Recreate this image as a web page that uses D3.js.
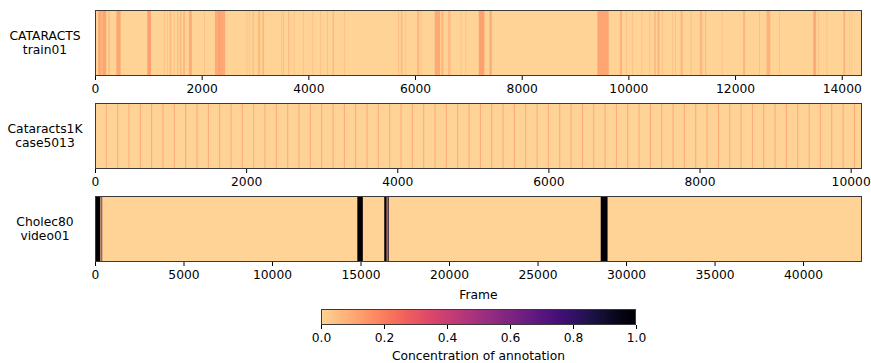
<!DOCTYPE html>
<html>
<head>
<meta charset="utf-8">
<script src="https://cdn.jsdelivr.net/npm/d3@7"></script>
<style>
  html, body { margin: 0; padding: 0; background: #fff; }
  svg { display: block; }
  text { font-family: "DejaVu Sans", sans-serif; }
</style>
</head>
<body>
<svg id="chart" width="871" height="363"></svg>
<script>
// ---------- data ----------
const datasetNames = [["CATARACTS", "train01"], ["Cataracts1K", "case5013"], ["Cholec80", "video01"]];
const frameCounts = [14380, 10150, 43330];

// CATARACTS train01: [startFrame, endFrame, concentration]
const cataractsSegments = [
  [60,110,0.11],[110,150,0.08],[150,210,0.11],[250,275,0.06],[400,480,0.11],[980,1050,0.12],
  [1290,1310,0.05],[1350,1365,0.05],[1400,1430,0.06],[1475,1490,0.05],[1540,1560,0.06],
  [1590,1620,0.06],[1655,1685,0.07],[1765,1815,0.1],[2045,2060,0.05],[2250,2300,0.1],
  [2300,2360,0.12],[2360,2440,0.1],[2840,2855,0.05],[2890,2905,0.05],[2955,2975,0.06],
  [3060,3095,0.07],[3140,3170,0.07],[3495,3510,0.05],[3530,3545,0.06],[3620,3640,0.06],
  [3725,3740,0.05],[3900,3915,0.05],[4075,4090,0.05],[4225,4240,0.05],[4350,4365,0.05],
  [4455,4480,0.07],[4670,4685,0.05],[5685,5700,0.06],[5735,5765,0.06],[5820,5835,0.05],
  [6040,6080,0.07],[6105,6120,0.05],[6370,6470,0.1],[6495,6535,0.07],[6620,6665,0.06],
  [6855,6870,0.05],[6945,6960,0.05],[7195,7300,0.12],[7395,7440,0.09],[9420,9630,0.11],
  [9840,9880,0.08],[9960,9975,0.05],[10070,10085,0.05],[10245,10260,0.05],[10395,10410,0.05],
  [10485,10515,0.07],[10545,10585,0.07],[10635,10650,0.05],[10825,10840,0.05],[10875,10890,0.05],
  [10980,11020,0.07],[11170,11185,0.05],[11340,11385,0.07],[11440,11460,0.06],[11750,11765,0.05],
  [12150,12190,0.07],[12450,12465,0.06],[12590,12660,0.08],[12825,12840,0.05],[13465,13520,0.1],
  [13560,13575,0.05],[13715,13730,0.05],[14030,14065,0.08],[14140,14150,0.05],[14185,14195,0.05]
];

// Cataracts1K case5013: annotated frames (each a thin stripe)
const cataracts1kFrames = [
  150,300,450,600,750,900,1050,1200,1350,1500,1650,1800,1950,2100,2250,2400,2550,2700,2850,3000,
  3150,3300,3450,3600,3750,3900,4050,4200,4350,4500,4650,4800,4950,5100,5250,5400,5550,5700,5850,6000,
  6150,6300,6450,6600,6750,6900,7050,7200,7350,7500,7650,7800,7950,8100,8250,8400,8550,8700,8850,9000,
  9150,9300,9450,9600,9750,9900,10050
];
const cataracts1kValue = 0.1;
const cataracts1kWidth = 13;

// Cholec80 video01: [startFrame, endFrame, concentration]
const cholecSegments = [
  [0,300,1.0],[350,410,0.5],[14820,15130,1.0],[16340,16480,1.0],[16480,16560,0.35],
  [16560,16600,0.9],[28570,28940,1.0],[28940,28980,0.6]
];

const xTicks = [
  [0,2000,4000,6000,8000,10000,12000,14000],
  [0,2000,4000,6000,8000,10000],
  [0,5000,10000,15000,20000,25000,30000,35000,40000]
];
const cbarTicks = [0.0,0.2,0.4,0.6,0.8,1.0];
const xLabel = "Frame";
const cbarLabel = "Concentration of annotation";

// ---------- drawing ----------
const FS = 12.3;
const svg = d3.select("#chart");
const color = v => d3.interpolateMagma(0.91 * (1 - v));

const left = 95, right = 862, panelH = 66;
const panelTops = [10, 103, 196];

const segsPerPanel = [
  cataractsSegments,
  cataracts1kFrames.map(f => [f - cataracts1kWidth / 2, f + cataracts1kWidth / 2, cataracts1kValue]),
  cholecSegments
];

panelTops.forEach((top, i) => {
  const x = d3.scaleLinear().domain([0, frameCounts[i]]).range([left, right]);
  const g = svg.append("g");
  g.append("rect").attr("x", left).attr("y", top).attr("width", right - left).attr("height", panelH)
    .attr("fill", color(0));
  g.selectAll("rect.seg").data(segsPerPanel[i]).join("rect").attr("class", "seg")
    .attr("x", d => x(d[0])).attr("y", top)
    .attr("width", d => Math.max(0, x(d[1]) - x(d[0]))).attr("height", panelH)
    .attr("fill", d => color(d[2]));
  g.append("rect").attr("x", left + 0.5).attr("y", top + 0.5)
    .attr("width", right - left - 1).attr("height", panelH - 1)
    .attr("fill", "none").attr("stroke", "#3a3a3a").attr("stroke-width", 1);

  const axis = d3.axisBottom(x).tickValues(xTicks[i]).tickFormat(d3.format("d"))
    .tickSizeOuter(0).tickSize(4).tickPadding(4);
  const ag = svg.append("g").attr("transform", `translate(0,${top + panelH})`).call(axis);
  ag.select(".domain").remove();
  ag.selectAll(".tick line").attr("stroke", "#000");
  ag.selectAll(".tick text").attr("font-size", FS).attr("font-family", "DejaVu Sans").attr("fill", "#000");

  const t = svg.append("text").attr("x", 45).attr("text-anchor", "middle")
    .attr("font-size", FS).attr("fill", "#000");
  t.append("tspan").attr("x", 45).attr("y", top + panelH / 2 - 3.5).text(datasetNames[i][0]);
  t.append("tspan").attr("x", 45).attr("y", top + panelH / 2 + 10.5).text(datasetNames[i][1]);
});

svg.append("text").attr("x", (left + right) / 2).attr("y", 299).attr("text-anchor", "middle")
  .attr("font-size", FS).attr("fill", "#000").text(xLabel);

// colorbar
const cbL = 321, cbR = 636, cbT = 309, cbB = 325;
const grad = svg.append("defs").append("linearGradient").attr("id", "cbgrad")
  .attr("x1", "0%").attr("x2", "100%").attr("y1", "0%").attr("y2", "0%");
d3.range(0, 1.0001, 0.02).forEach(v => {
  grad.append("stop").attr("offset", (v * 100) + "%").attr("stop-color", color(v));
});
svg.append("rect").attr("x", cbL).attr("y", cbT).attr("width", cbR - cbL).attr("height", cbB - cbT)
  .attr("fill", "url(#cbgrad)");
svg.append("rect").attr("x", cbL + 0.5).attr("y", cbT + 0.5).attr("width", cbR - cbL - 1).attr("height", cbB - cbT - 1)
  .attr("fill", "none").attr("stroke", "#3a3a3a").attr("stroke-width", 1);
const cx = d3.scaleLinear().domain([0, 1]).range([cbL, cbR]);
const cag = svg.append("g").attr("transform", `translate(0,${cbB})`)
  .call(d3.axisBottom(cx).tickValues(cbarTicks).tickFormat(d3.format(".1f")).tickSizeOuter(0).tickSize(4).tickPadding(4));
cag.select(".domain").remove();
cag.selectAll(".tick line").attr("stroke", "#000");
cag.selectAll(".tick text").attr("font-size", FS).attr("font-family", "DejaVu Sans").attr("fill", "#000");
svg.append("text").attr("x", (cbL + cbR) / 2).attr("y", 360).attr("text-anchor", "middle")
  .attr("font-size", FS).attr("fill", "#000").text(cbarLabel);
</script>
</body>
</html>
